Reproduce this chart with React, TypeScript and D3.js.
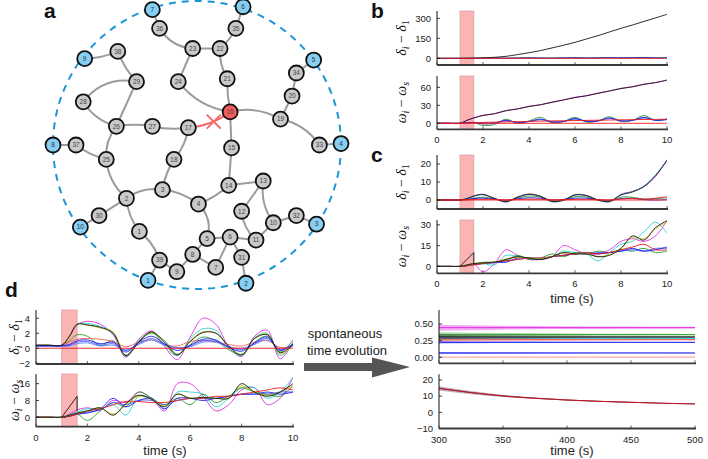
import * as React from "react";
import * as d3 from "d3";

// ---------- panel a: 39-bus network, positions in ring units (-1..1) ----------
const generators = [
  { id: 1, x: -0.34, y: 0.94 }, { id: 2, x: 0.34, y: 0.96 }, { id: 3, x: 0.83, y: 0.55 },
  { id: 4, x: 1.0, y: -0.01 }, { id: 5, x: 0.81, y: -0.59 }, { id: 6, x: 0.32, y: -0.96 },
  { id: 7, x: -0.31, y: -0.94 }, { id: 8, x: -1.0, y: 0.0 }, { id: 9, x: -0.78, y: -0.6 },
  { id: 10, x: -0.81, y: 0.57 },
];
const buses = [
  { id: 1, x: -0.4, y: 0.6 }, { id: 2, x: -0.49, y: 0.37 }, { id: 3, x: -0.24, y: 0.31 },
  { id: 4, x: 0.01, y: 0.41 }, { id: 5, x: 0.07, y: 0.65 }, { id: 6, x: 0.23, y: 0.64 },
  { id: 7, x: 0.13, y: 0.85 }, { id: 8, x: -0.03, y: 0.76 }, { id: 9, x: -0.14, y: 0.88 },
  { id: 10, x: 0.53, y: 0.54 }, { id: 11, x: 0.41, y: 0.66 }, { id: 12, x: 0.31, y: 0.46 },
  { id: 13, x: 0.46, y: 0.25 }, { id: 14, x: 0.22, y: 0.28 }, { id: 15, x: 0.24, y: 0.02 },
  { id: 16, x: 0.23, y: -0.23 }, { id: 17, x: -0.06, y: -0.12 }, { id: 18, x: -0.16, y: 0.1 },
  { id: 19, x: 0.58, y: -0.18 }, { id: 20, x: 0.66, y: -0.34 }, { id: 21, x: 0.21, y: -0.46 },
  { id: 22, x: 0.16, y: -0.67 }, { id: 23, x: -0.03, y: -0.67 }, { id: 24, x: -0.13, y: -0.44 },
  { id: 25, x: -0.63, y: 0.1 }, { id: 26, x: -0.56, y: -0.13 }, { id: 27, x: -0.31, y: -0.13 },
  { id: 28, x: -0.79, y: -0.3 }, { id: 29, x: -0.42, y: -0.44 }, { id: 30, x: -0.68, y: 0.49 },
  { id: 31, x: 0.31, y: 0.78 }, { id: 32, x: 0.69, y: 0.49 }, { id: 33, x: 0.85, y: 0.0 },
  { id: 34, x: 0.69, y: -0.5 }, { id: 35, x: 0.27, y: -0.81 }, { id: 36, x: -0.26, y: -0.81 },
  { id: 37, x: -0.84, y: 0.0 }, { id: 38, x: -0.55, y: -0.65 }, { id: 39, x: -0.26, y: 0.8 },
];
const faultedBus = 16;
// [from, to, bend]
const edges: [string, string, number][] = [
  ["g7", "b36", 0], ["b36", "b23", 0.25], ["b23", "b22", 0], ["b22", "b35", 0.1], ["b35", "g6", 0],
  ["b23", "b24", 0], ["b22", "b21", 0.15], ["b21", "b16", 0.05], ["b24", "b16", 0.2], ["b16", "b19", -0.2],
  ["b19", "b20", 0], ["b20", "b34", 0], ["b34", "g5", 0], ["b19", "b33", -0.2], ["b33", "g4", 0],
  ["b16", "b15", 0], ["g9", "b38", 0.1], ["b38", "b29", 0.1], ["b29", "b28", 0.3], ["b29", "b26", 0],
  ["b28", "b26", 0.2], ["b26", "b27", -0.08], ["b27", "b17", 0.1], ["b26", "b25", 0.2], ["b17", "b18", -0.15],
  ["g8", "b37", 0], ["b37", "b25", 0.1], ["b25", "b2", 0.2], ["b18", "b3", 0.1], ["b2", "b3", -0.2],
  ["b2", "b30", 0], ["b30", "g10", 0], ["b2", "b1", 0.15], ["b1", "b39", -0.15], ["b39", "g1", 0],
  ["b39", "b9", 0], ["b9", "b8", 0], ["b8", "b7", 0], ["b8", "b5", 0], ["b4", "b5", -0.3],
  ["b3", "b4", -0.15], ["b4", "b14", 0.1], ["b14", "b15", 0], ["b14", "b13", 0], ["b13", "b12", 0],
  ["b12", "b11", 0.2], ["b13", "b10", 0.2], ["b10", "b32", 0], ["b32", "g3", 0], ["b10", "b11", 0],
  ["b5", "b6", 0], ["b6", "b11", 0], ["b6", "b31", 0], ["b31", "g2", 0], ["b6", "b7", 0],
];
const faultedLine: [string, string, number] = ["b17", "b16", 0.15];

// ---------- time series (t in s) ----------
const tGrid = [0, 0.5, 1, 1.3, 1.6, 2, 2.5, 3, 3.5, 4, 4.5, 5, 5.5, 6, 6.5, 7, 7.5, 8, 8.5, 9, 9.5, 10];
const zeros = tGrid.map(() => 0);
const faultWindow = [1, 1.6];
const rampT = [1, 1.6, 1.6];

// b: fault cleared late
const bDeltaBlack = [0, 0, 0, 0.5, 1.5, 3, 8, 15, 28, 42, 58, 78, 98, 120, 145, 170, 198, 225, 250, 277, 303, 330];
const bDeltaGreen = [0, 0, 0, 0.3, 1, 2, 3, 1, 3, 5, 3, 2, 5, 6, 3, 5, 6, 4, 6, 7, 4, 6];
const bDeltaBlue = [0, 0, 0, 0.2, 0.8, 1.5, 2, 1, 2, 3, 2, 1, 3, 4, 2, 3, 4, 3, 4, 5, 3, 4];
const bOmegaBlack = [0, 0, 0, 5, 9, 13, 16, 21, 24, 28, 31, 35, 39, 43, 46, 50, 54, 58, 61, 65, 68, 72];
const bOmegaMagenta = [0, 0, 0, 5, 9, 13.5, 16, 21.5, 24, 28.5, 31, 35.5, 39, 43.5, 46, 50.5, 54, 58.5, 61, 65.5, 68, 72.5];
const bOmegaGreen = [0, 0, 0, 1, 1, -3.5, -2, 7, 0, 4, 10, 1, 3, 10, 2, 4, 11, 3, 5, 13, 5, 7];
const bOmegaBlue = [0, 0, 0, 1, 1.5, -1, 0, 5, 1, 3, 7, 2, 3, 8, 3, 4, 9, 4, 5, 10, 5, 7];
const bOmegaBlue2 = [0, 0, 0, 0.5, 1.5, 1, 1, 4, 2, 3, 6, 3, 3, 7, 4, 4, 8, 4, 5, 9, 5, 6];
const bOmegaRed = [0, 0, 0, 0.5, 1, 1.5, 2, 2.4, 2.8, 3.2, 3.6, 4, 4.3, 4.6, 4.9, 5.2, 5.5, 5.8, 6.1, 6.4, 6.6, 6.8];

// c: unstable after ~8 s
const cDeltaBlack = [0, 0, 0, 0.8, 2.2, 3.0, 0.8, -0.9, 1.5, 3.2, 2.0, -0.8, -0.2, 2.8, 2.4, 0.0, -0.8, 2.8, 4.5, 7.5, 13.5, 22];
const cDeltaMagenta = [0, 0, 0, 0.8, 2.3, 3.2, 1.0, -1.2, 1.8, 3.3, 2.2, -1.0, 0.0, 3.0, 2.6, 0.0, -1.0, 3.2, 4.8, 7.5, 13, 22.5];
const cDeltaCyan = [0, 0, 0, 0.8, 2.2, 3.0, 0.9, -1.0, 1.6, 3.1, 2.0, -0.9, -0.1, 2.8, 2.3, -0.1, -0.9, 3.0, 4.6, 7.8, 14, 22];
const cDeltaGreen = [0, 0, 0, 0.3, 1.0, 1.6, 0.6, -0.8, 1.0, 2.2, 1.6, -0.6, 0.2, 1.8, 1.6, 0.0, -0.8, 1.6, 1.5, 0.5, 0.8, 1.2];
const cDeltaBlue = [0, 0, 0, 0.3, 0.8, 1.0, 0.5, -0.2, 0.7, 1.2, 1.0, 0.0, 0.3, 1.0, 1.0, 0.2, -0.2, 0.8, 0.9, 0.2, 0.0, 0.2];
const cDeltaRed = [0, 0, 0, 0.1, 0.3, 0.4, 0.3, 0, 0.3, 0.5, 0.4, 0, 0.1, 0.4, 0.4, 0.1, 0, 0.5, 0.9, 0.4, 1.0, 1.8];
const cOmegaBlack = [0, 0, 0, 1, 2, 2.5, 3, 5, 7, 6, 5, 7, 10, 9, 9, 7, 8, 13, 22, 19, 28, 33];
const cOmegaYellow = [0, 0, 0, 1, 2, 2.5, 3, 5.5, 6.5, 6, 5.5, 7, 9.5, 9, 9.5, 7, 8.5, 13, 21, 20, 27, 32];
const cOmegaMagenta = [0, 0, 0, 1, 2, -4, 2, 12, 8, 5, 5, 7, 15, 12, 9, 9, 12, 18, 20, 18, 22, 33];
const cOmegaCyan = [0, 0, 0, 1, 2, 2, 1, 8, 7, 6, 6, 7, 11, 10, 9, 4, 10, 16, 18, 25, 32, 24];
const cOmegaGreen = [0, 0, 0, 0.5, 1.5, 3, 3, 4, 8, 5, 6, 9, 7, 10, 9, 11, 10, 12, 11, 13, 10, 11];
const cOmegaBlue = [0, 0, 0, 0.5, 1.5, 2, 3, 3, 6, 6, 5, 7, 8, 9, 10, 9, 10, 11, 13, 11, 12, 14];
const cOmegaBlue2 = [0, 0, 0, 0.5, 1.5, 2, 2.5, 4, 5, 6, 6, 7, 8, 9, 9, 10, 10, 11, 12, 11, 13, 13];
const cOmegaRed = [0, 0, 0, 0.5, 1, 2, 3, 4, 5, 6, 6, 7, 8, 9, 10, 9, 10, 12, 14, 16, 12, 12];
const cRamp = [0, 10, 2];

// d: first 10 s of the stabilised run
const dDeltaBlack = [0.4, 0.4, 0.4, 1.6, 3.2, 3.1, 2.8, 2.0, -1.0, 0.8, 2.2, 0.8, -0.9, 0.9, 2.1, 2.0, 0.3, -0.9, 1.3, 1.8, -0.6, 0.5];
const dDeltaMagenta = [0.4, 0.4, 0.4, 1.5, 3.1, 3.6, 3.2, 1.8, -1.2, 1.2, 2.3, 0.2, -1.5, 1.5, 4.0, 3.2, 0.2, -1.1, 1.6, 2.4, -1.4, 0.8];
const dDeltaCyan = [0.4, 0.4, 0.4, 1.6, 3.2, 3.3, 2.9, 2.0, -1.1, 1.0, 2.1, 0.3, -1.0, 1.3, 2.6, 2.4, 0.0, -1.0, 1.4, 2.0, -1.0, 0.5];
const dDeltaYellow = [0.4, 0.4, 0.4, 1.7, 3.2, 3.1, 2.7, 2.2, -1.0, 0.9, 2.1, 0.5, -0.9, 1.0, 2.2, 2.0, 0.2, -0.9, 1.3, 1.9, -0.8, 0.4];
const dDeltaGreen = [0.4, 0.4, 0.4, 1.0, 1.8, 1.6, 0.4, 1.0, -0.9, 1.0, 2.0, 1.0, -0.8, 0.5, 1.5, 1.0, -0.2, -0.8, 0.8, 1.6, -0.5, 1.1];
const dDeltaRed = [0.4, 0.4, 0.4, 0.8, 1.2, 1.3, 1.2, 0.9, 0.2, 0.8, 1.1, 0.5, 0.3, 0.9, 1.0, 0.8, 0.5, 0.3, 0.8, 1.0, 0.1, 0.3];
const dDeltaBlue = [0.35, 0.35, 0.35, 0.5, 1.0, 1.1, 0.6, 0.8, -0.5, 0.8, 1.6, 0.6, -0.3, 0.4, 1.2, 1.1, 0.1, -0.4, 0.7, 1.5, -0.3, 0.6];
const dDeltaBlue2 = [0.3, 0.3, 0.3, 0.4, 0.8, 0.9, 0.4, 0.6, -0.3, 0.6, 1.3, 0.5, 0.0, 0.3, 1.0, 0.9, 0.2, -0.2, 0.6, 1.3, -0.2, 0.5];
const dDeltaBlue3 = [0.25, 0.25, 0.25, 0.3, 0.6, 0.7, 0.3, 0.4, -0.2, 0.5, 1.1, 0.4, 0.1, 0.2, 0.8, 0.8, 0.2, 0.0, 0.5, 1.1, -0.1, 0.4];
const dOmegaBlack = [0, 0, 0, 1, 2, 3, 4.5, 1, 6.5, 10.5, 8.5, 5, 11, 9, 9.5, 9, 9, 16, 12, 10, 12, 16];
const dOmegaYellow = [0, 0, 0, 1, 2, 3, 4.5, 1.5, 6, 10, 8.5, 5.5, 11, 9, 9.5, 9, 9.5, 15, 12, 10.5, 12, 15];
const dOmegaMagenta = [0, 0, 0, 1.5, 3.5, 4.5, 3.5, 8, 7, 12, 9, 3, 16, 16, 10, 3, 6, 13, 14, 6, 9, 19];
const dOmegaCyan = [0, 0, 0, 1, 2.5, 4, 4, 6, 1, 10, 9, 4, 12, 12, 11, 5, 9, 14, 14, 9, 12, 19];
const dOmegaGreen = [0, 0, 0, 0.5, 1.5, -1.5, 3, 7, 5, 12, 9, 6, 9, 6, 11, 7, 10, 14, 12, 11, 10, 15];
const dOmegaBlue = [0, 0, 0, 0.5, 1.5, 2, 4, 9, 5, 8, 9, 4, 9, 9, 8, 9, 10, 11, 11, 12, 11, 12];
const dOmegaBlue2 = [0, 0, 0, 0.5, 1.5, 2.5, 3.5, 7, 6, 8, 8, 6, 8, 9, 9, 9, 10, 11, 11, 11, 12, 12];
const dOmegaRed = [0, 0, 0, 0.5, 1.5, 3, 4, 6, 7.5, 7.5, 7, 7, 8, 9, 9, 10, 10, 11, 12, 13, 14, 13];
const dRamp = [0, 10, 3];

// d (right): 300-500 s, level and oscillation half-width
const tLong = [300, 350, 400, 450, 500];
const lvMagenta = [0.445, 0.445, 0.445, 0.445, 0.445];
const ampMagenta = [0.045, 0.03, 0.022, 0.017, 0.013];
const lvGreen = [0.34, 0.34, 0.34, 0.34, 0.34];
const lvBlack = [0.305, 0.305, 0.305, 0.305, 0.305];
const lvCyan = [0.285, 0.285, 0.285, 0.285, 0.285];
const lvRed2 = [0.265, 0.265, 0.265, 0.265, 0.265];
const ampMid = [0.035, 0.024, 0.017, 0.013, 0.01];
const lvBlue = [0.225, 0.225, 0.225, 0.225, 0.225];
const lvBlue2 = [0.065, 0.065, 0.065, 0.065, 0.065];
const ampLow = [0.016, 0.011, 0.008, 0.006, 0.005];
const lvRed = [0.003, 0.003, 0.003, 0.003, 0.003];
const ampRed = [0.005, 0.005, 0.005, 0.005, 0.005];
const tDecay = [300, 325, 350, 375, 400, 425, 450, 475, 500];
const decayOmega = [14.8, 12.2, 10.1, 8.7, 7.6, 6.8, 6.2, 5.6, 5.2];
const decayFuzz = [1.3, 1.0, 0.7, 0.45, 0.3, 0.2, 0.12, 0.06, 0];

const col = {
  red: "#f01818", red2: "#f56060", blue: "#1c1cf0", blue2: "#3d5bff", blue3: "#6f84ff",
  green: "#2c9a2c", magenta: "#e030e0", cyan: "#28d0d0", yellow: "#c9c400", black: "#151515",
};

type Series = { c: string; t: number[]; v: number[]; linear?: boolean };
type Band = { c: string; t: number[]; v: number[]; a: number[] };
const S = (c: string, v: number[], t: number[] = tGrid): Series => ({ c, t, v });

const FONT = "'Liberation Sans', Arial, sans-serif";
const fmtInt = d3.format("d");

type PanelProps = {
  id: string;
  box: { l: number; r: number; t: number; b: number };
  xd: number[];
  yd: number[];
  yTicks: number[];
  yFmt?: (n: number) => string;
  xTicks: number[];
  xLabels: boolean;
  series: Series[];
  bands?: Band[];
  fault?: boolean;
  yLabel?: "delta" | "omega";
  yLabelX?: number;
};

function YLabel({ kind, x, y }: { kind: "delta" | "omega"; x: number; y: number }) {
  const g = kind === "delta" ? "δ" : "ω";
  const s2 = kind === "delta" ? "1" : "s";
  return (
    <text transform={`translate(${x},${y}) rotate(-90)`} textAnchor="middle" fontSize={14}
      fontFamily="'Liberation Serif', 'DejaVu Serif', serif" fill="#111">
      <tspan fontStyle="italic">{g}</tspan>
      <tspan fontStyle="italic" fontSize={10} dy={3}>i</tspan>
      <tspan dy={-3}>{" − "}</tspan>
      <tspan fontStyle="italic">{g}</tspan>
      <tspan fontStyle={kind === "delta" ? "normal" : "italic"} fontSize={10} dy={3}>{s2}</tspan>
    </text>
  );
}

function Panel(p: PanelProps) {
  const x = d3.scaleLinear().domain(p.xd).range([p.box.l, p.box.r]);
  const y = d3.scaleLinear().domain(p.yd).range([p.box.b, p.box.t]);
  const curve = d3.curveCatmullRom.alpha(0.5);
  const mk = (s: Series) =>
    d3.line<number>().x((_, i) => x(s.t[i])).y((d) => y(d)).curve(s.linear ? d3.curveLinear : curve)(s.v) || "";
  const area = (b: Band) =>
    d3.area<number>().x((_, i) => x(b.t[i])).y0((d, i) => y(d - b.a[i])).y1((d, i) => y(d + b.a[i]))
      .curve(d3.curveMonotoneX)(b.v) || "";
  const fmt = p.yFmt || fmtInt;
  return (
    <g>
      <defs>
        <clipPath id={`clip-${p.id}`}>
          <rect x={p.box.l} y={p.box.t - 2} width={p.box.r - p.box.l} height={p.box.b - p.box.t + 2} />
        </clipPath>
      </defs>
      {p.fault && (
        <rect x={x(faultWindow[0])} y={p.box.t} width={x(faultWindow[1]) - x(faultWindow[0])}
          height={p.box.b - p.box.t} fill="#fbb3b3" stroke="#dba3a3" strokeWidth={0.8} />
      )}
      <g clipPath={`url(#clip-${p.id})`}>
        {(p.bands || []).map((b, i) => (
          <g key={"b" + i}>
            <path d={area(b)} fill={b.c} opacity={0.4} />
            <path d={d3.line<number>().x((_, j) => x(b.t[j])).y((d) => y(d))(b.v) || ""} stroke={b.c} strokeWidth={1} fill="none" />
          </g>
        ))}
        {p.series.map((s, i) => (
          <path key={i} d={mk(s)} stroke={s.c} strokeWidth={0.9} fill="none" />
        ))}
      </g>
      {/* left axis */}
      <line x1={p.box.l} x2={p.box.l} y1={p.box.t} y2={p.box.b} stroke="#111" strokeWidth={1} />
      {p.yTicks.map((t) => (
        <g key={"y" + t}>
          <line x1={p.box.l} x2={p.box.l + 3} y1={y(t)} y2={y(t)} stroke="#111" strokeWidth={0.8} />
          <text x={p.box.l - 6} y={y(t)} dy="0.35em" textAnchor="end" fontSize={9.5} fontFamily={FONT} fill="#222">
            {fmt(t)}
          </text>
        </g>
      ))}
      {/* bottom axis */}
      <line x1={p.box.l} x2={p.box.r + 1} y1={p.box.b} y2={p.box.b} stroke="#3a3a3a" strokeWidth={1.8} />
      {p.xTicks.map((t) => (
        <g key={"x" + t}>
          <line x1={x(t)} x2={x(t)} y1={p.box.b} y2={p.box.b - 3} stroke="#3a3a3a" strokeWidth={0.8} />
          {p.xLabels && (
            <text x={x(t)} y={p.box.b + 14} textAnchor="middle" fontSize={9.5} fontFamily={FONT} fill="#222">
              {fmtInt(t)}
            </text>
          )}
        </g>
      ))}
      {p.yLabel && <YLabel kind={p.yLabel} x={p.yLabelX || p.box.l - 30} y={(p.box.t + p.box.b) / 2} />}
    </g>
  );
}

function Network() {
  const sx = d3.scaleLinear().domain([-1, 1]).range([53, 341]);
  const sy = d3.scaleLinear().domain([-1, 1]).range([1, 289]);
  const pos = new Map<string, [number, number]>();
  generators.forEach((g) => pos.set("g" + g.id, [sx(g.x), sy(g.y)]));
  buses.forEach((b) => pos.set("b" + b.id, [sx(b.x), sy(b.y)]));
  const ctrl = (a: [number, number], b: [number, number], bend: number): [number, number] => {
    const dx = b[0] - a[0], dy = b[1] - a[1];
    return [(a[0] + b[0]) / 2 - dy * bend, (a[1] + b[1]) / 2 + dx * bend];
  };
  const edgePath = ([f, t, bend]: [string, string, number]) => {
    const a = pos.get(f)!, b = pos.get(t)!;
    const c = ctrl(a, b, bend);
    const p = d3.path();
    p.moveTo(a[0], a[1]);
    p.quadraticCurveTo(c[0], c[1], b[0], b[1]);
    return p.toString();
  };
  const fa = pos.get(faultedLine[0])!, fb = pos.get(faultedLine[1])!;
  const fc = ctrl(fa, fb, faultedLine[2]);
  const u = 0.58;
  const xm = (1 - u) * (1 - u) * fa[0] + 2 * (1 - u) * u * fc[0] + u * u * fb[0];
  const ym = (1 - u) * (1 - u) * fa[1] + 2 * (1 - u) * u * fc[1] + u * u * fb[1];
  const r = 7.5;
  return (
    <g>
      <circle cx={sx(0)} cy={sy(0)} r={sx(1) - sx(0)} fill="none" stroke="#1a96d4" strokeWidth={2} strokeDasharray="7 6" />
      {edges.map((e, i) => (
        <path key={i} d={edgePath(e)} fill="none" stroke="#9b9b9b" strokeWidth={2} />
      ))}
      <path d={edgePath(faultedLine)} fill="none" stroke="#f26a6a" strokeWidth={2} />
      <g stroke="#f26a6a" strokeWidth={2}>
        <line x1={xm - 7} y1={ym - 7} x2={xm + 7} y2={ym + 7} />
        <line x1={xm - 7} y1={ym + 7} x2={xm + 7} y2={ym - 7} />
      </g>
      {buses.map((b) => (
        <g key={"b" + b.id}>
          <circle cx={sx(b.x)} cy={sy(b.y)} r={r} fill={b.id === faultedBus ? "#f25c5c" : "#c9c9c9"} stroke="#111" strokeWidth={1.8} />
          <text x={sx(b.x)} y={sy(b.y)} dy="0.35em" textAnchor="middle" fontSize={6.5} fontFamily={FONT} fill="#444">{b.id}</text>
        </g>
      ))}
      {generators.map((g) => (
        <g key={"g" + g.id}>
          <circle cx={sx(g.x)} cy={sy(g.y)} r={r} fill="#85cff4" stroke="#111" strokeWidth={1.8} />
          <text x={sx(g.x)} y={sy(g.y)} dy="0.35em" textAnchor="middle" fontSize={6.5} fontFamily={FONT} fill="#333">{g.id}</text>
        </g>
      ))}
    </g>
  );
}

export default function App() {
  const ten = [0, 2, 4, 6, 8, 10];
  const bc = { l: 437, r: 667 };
  const dl = { l: 36, r: 293 };
  const dr = { l: 439, r: 695 };
  return (
    <svg width={708} height={459} viewBox="0 0 708 459" style={{ position: "absolute", left: 0, top: 0, background: "#fff" }}>
      <rect width={708} height={459} fill="#fff" />
      <Network />
      <Panel id="b1" box={{ ...bc, t: 11, b: 65 }} xd={[0, 10]} yd={[-50, 355]} yTicks={[0, 150, 300]} xTicks={ten} xLabels={false}
        fault yLabel="delta" yLabelX={406}
        series={[S(col.green, bDeltaGreen), S(col.blue, bDeltaBlue), S(col.black, bDeltaBlack), S(col.red, zeros)]} />
      <Panel id="b2" box={{ ...bc, t: 76, b: 129.3 }} xd={[0, 10]} yd={[-10, 79]} yTicks={[0, 30, 60]} xTicks={ten} xLabels
        fault yLabel="omega" yLabelX={406}
        series={[S(col.magenta, bOmegaMagenta), S(col.black, bOmegaBlack), S(col.green, bOmegaGreen),
          S(col.blue2, bOmegaBlue2), S(col.blue, bOmegaBlue), S(col.red, bOmegaRed), S(col.red, zeros)]} />
      <Panel id="c1" box={{ ...bc, t: 155, b: 209 }} xd={[0, 10]} yd={[-5, 25]} yTicks={[0, 10, 20]} xTicks={ten} xLabels={false}
        fault yLabel="delta" yLabelX={406}
        series={[S(col.magenta, cDeltaMagenta), S(col.cyan, cDeltaCyan), S(col.green, cDeltaGreen), S(col.blue, cDeltaBlue),
          S(col.black, cDeltaBlack), S(col.red, cDeltaRed), S(col.red, zeros)]} />
      <Panel id="c2" box={{ ...bc, t: 220, b: 273.3 }} xd={[0, 10]} yd={[-5, 33.5]} yTicks={[0, 15, 30]} xTicks={ten} xLabels
        fault yLabel="omega" yLabelX={406}
        series={[S(col.magenta, cOmegaMagenta), S(col.cyan, cOmegaCyan), S(col.green, cOmegaGreen), S(col.blue2, cOmegaBlue2),
          S(col.blue, cOmegaBlue), S(col.red, cOmegaRed), S(col.yellow, cOmegaYellow), S(col.black, cOmegaBlack),
          { c: col.black, t: rampT, v: cRamp, linear: true }]} />
      <Panel id="d1" box={{ ...dl, t: 310, b: 364 }} xd={[0, 10]} yd={[-2.1, 5.1]} yTicks={[-2, 0, 2, 4]} xTicks={ten} xLabels={false}
        fault yLabel="delta" yLabelX={19}
        series={[S(col.magenta, dDeltaMagenta), S(col.cyan, dDeltaCyan), S(col.yellow, dDeltaYellow), S(col.green, dDeltaGreen),
          S(col.red2, dDeltaRed), S(col.blue3, dDeltaBlue3), S(col.blue2, dDeltaBlue2), S(col.blue, dDeltaBlue),
          S(col.black, dDeltaBlack), S(col.red, zeros)]} />
      <Panel id="d2" box={{ ...dl, t: 374, b: 426.7 }} xd={[0, 10]} yd={[-4.5, 20.6]} yTicks={[0, 8, 16]} xTicks={ten} xLabels
        fault yLabel="omega" yLabelX={19}
        series={[S(col.magenta, dOmegaMagenta), S(col.cyan, dOmegaCyan), S(col.green, dOmegaGreen), S(col.blue2, dOmegaBlue2),
          S(col.blue, dOmegaBlue), S(col.red, dOmegaRed), S(col.yellow, dOmegaYellow), S(col.black, dOmegaBlack),
          { c: col.black, t: rampT, v: dRamp, linear: true }]} />
      <Panel id="e1" box={{ ...dr, t: 310, b: 363.3 }} xd={[300, 500]} yd={[-0.09, 0.71]} yTicks={[0, 0.25, 0.5]} yFmt={d3.format(".2f")}
        xTicks={[300, 350, 400, 450, 500]} xLabels={false} series={[]}
        bands={[
          { c: col.magenta, t: tLong, v: lvMagenta, a: ampMagenta },
          { c: col.green, t: tLong, v: lvGreen, a: ampMid },
          { c: col.cyan, t: tLong, v: lvCyan, a: ampMid },
          { c: col.red2, t: tLong, v: lvRed2, a: ampMid },
          { c: col.black, t: tLong, v: lvBlack, a: ampMid },
          { c: col.blue, t: tLong, v: lvBlue, a: ampLow },
          { c: col.blue, t: tLong, v: lvBlue2, a: ampLow },
          { c: "#f7a0a0", t: tLong, v: lvRed, a: ampRed },
        ]} />
      <Panel id="e2" box={{ ...dr, t: 374.3, b: 428.5 }} xd={[300, 500]} yd={[-10, 23.5]} yTicks={[-10, 0, 10, 20]}
        xTicks={[300, 350, 400, 450, 500]} xLabels
        bands={[{ c: "#6a3a6a", t: tDecay, v: decayOmega, a: decayFuzz }]}
        series={[{ c: "#d01010", t: tDecay, v: decayOmega }]} />

      {/* titles and annotations */}
      <g fontFamily={FONT} fontWeight="bold" fontSize={21} fill="#111">
        <text x={44} y={18}>a</text>
        <text x={371} y={18}>b</text>
        <text x={371} y={162}>c</text>
        <text x={5} y={297}>d</text>
      </g>
      <g fontFamily={FONT} fontSize={13} fill="#222" textAnchor="middle">
        <text x={572} y={303}>time (s)</text>
        <text x={165} y={455}>time (s)</text>
        <text x={572} y={455}>time (s)</text>
        <text x={345} y={338}>spontaneous</text>
        <text x={347} y={355}>time evolution</text>
      </g>
      <path d="M304,363 L372,363 L372,357.5 L410,367 L372,377.5 L372,371 L304,371 Z" fill="#555" />
    </svg>
  );
}
